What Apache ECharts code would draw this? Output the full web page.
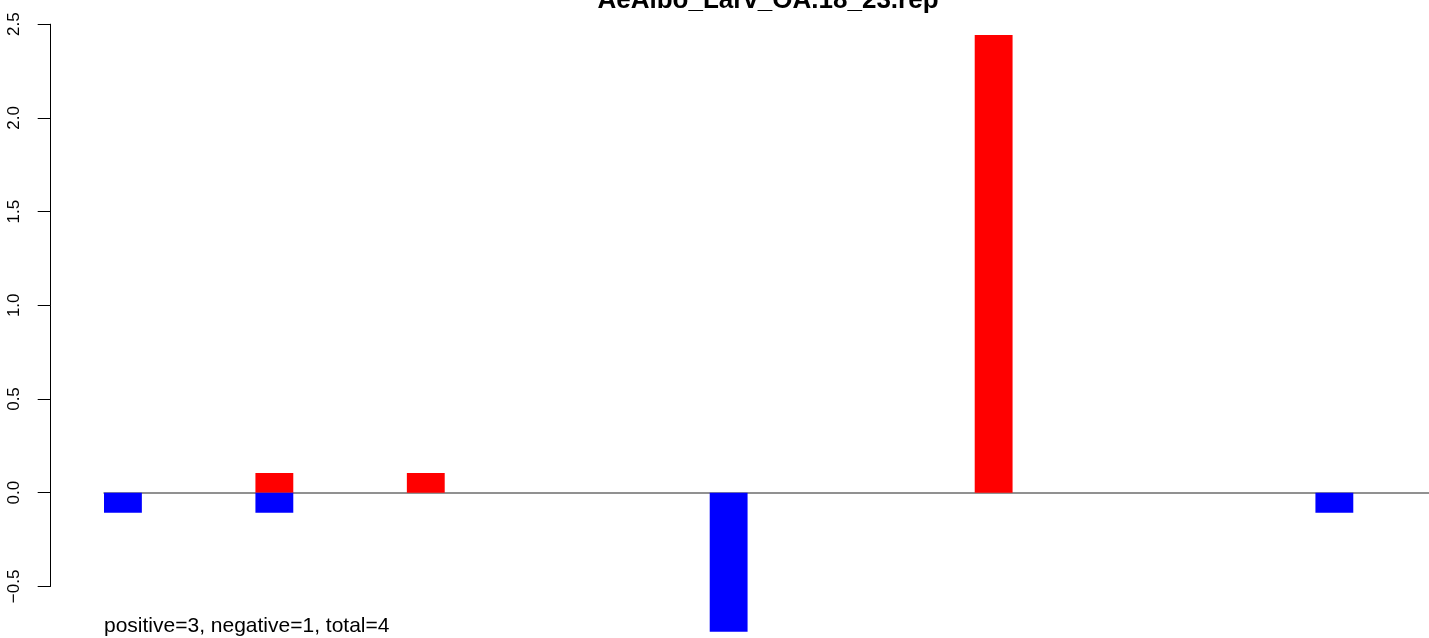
<!DOCTYPE html>
<html>
<head>
<meta charset="utf-8">
<script src="https://cdn.jsdelivr.net/npm/echarts@6/dist/echarts.min.js"></script>
<style>
html,body{margin:0;padding:0;background:#fff;}
#c{width:1429px;height:638px;}
</style>
</head>
<body>
<div id="c"></div>
<script>
const titleText = "AeAlbo_Larv_OA.18_23.rep";
const footerText = "positive=3, negative=1, total=4";
const slots = [0,1,2,3,4,5,6,7,8,9,10,11,12,13,14,15,16,17,18,19,20,21,22,23,24,25,26,27,28,29,30,31,32,33,34];
const positiveValues = [null,null,null,null,0.105,null,null,null,0.105,null,null,null,null,null,null,null,null,null,null,null,null,null,null,2.442,null,null,null,null,null,null,null,null,null,null,null];
const negativeValues = [-0.107,null,null,null,-0.107,null,null,null,null,null,null,null,null,null,null,null,-0.742,null,null,null,null,null,null,null,null,null,null,null,null,null,null,null,-0.107,null,null];
const yTicks = {min:-0.5, max:2.5, interval:0.5};
const barRange = {min:-0.75, max:2.5};

const unit = 187.4;       // px per y unit
const zeroY = 492.7;
const font = "Liberation Sans, Arial, sans-serif";

const chart = echarts.init(document.getElementById('c'), null, {renderer:'canvas'});
chart.setOption({
  animation:false,
  backgroundColor:'#ffffff',
  grid:[
    {left:50.7, top:zeroY - yTicks.max*unit, width:1, height:(yTicks.max - yTicks.min)*unit, containLabel:false},
    {left:104, right:-3, top:zeroY - barRange.max*unit, height:(barRange.max - barRange.min)*unit, containLabel:false}
  ],
  xAxis:[
    {gridIndex:0, type:'value', show:false},
    {gridIndex:1, type:'category', data:slots, show:true,
     axisLine:{show:true, onZero:true, lineStyle:{color:'#6e6e6e', width:1.5}},
     axisTick:{show:false}, axisLabel:{show:false}, splitLine:{show:false}}
  ],
  yAxis:[
    {gridIndex:0, type:'value', min:yTicks.min, max:yTicks.max, interval:yTicks.interval, position:'left',
     axisLine:{show:true, lineStyle:{color:'#000', width:1}},
     axisTick:{show:true, inside:false, length:13, lineStyle:{color:'#000', width:1}},
     axisLabel:{show:true, rotate:90, margin:28, fontSize:17, color:'#000', fontFamily:font,
       formatter:function(v){return v.toFixed(1).replace('-', '\u2212');}},
     splitLine:{show:false}},
    {gridIndex:1, type:'value', min:barRange.min, max:barRange.max, show:false, splitLine:{show:false}}
  ],
  series:[
    {type:'bar', xAxisIndex:1, yAxisIndex:1, data:positiveValues, itemStyle:{color:'#ff0000'},
     barCategoryGap:'0%', barGap:'-100%'},
    {type:'bar', xAxisIndex:1, yAxisIndex:1, data:negativeValues, itemStyle:{color:'#0000ff'},
     barCategoryGap:'0%', barGap:'-100%'}
  ],
  graphic:[
    {type:'text', style:{text:titleText, x:768, y:0.5, align:'center', verticalAlign:'middle',
      font:'bold 26px ' + font, fill:'#000'}},
    {type:'text', style:{text:footerText, x:104, y:626.2, align:'left', verticalAlign:'middle',
      font:'21px ' + font, fill:'#000'}}
  ]
});
</script>
</body>
</html>
